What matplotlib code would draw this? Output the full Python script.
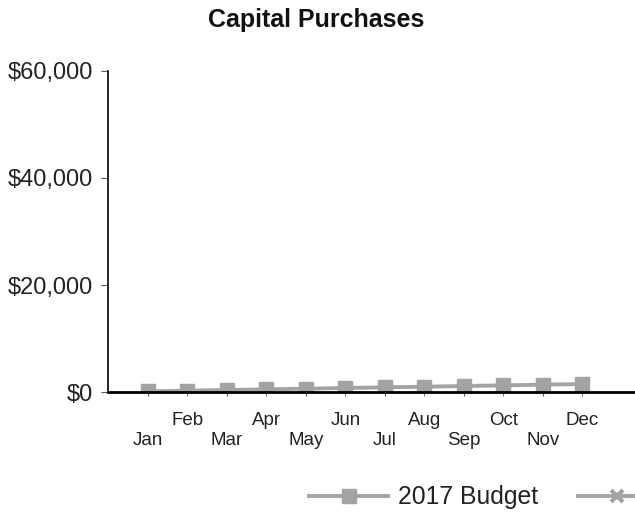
import numpy as np
import matplotlib.pyplot as plt
from matplotlib.ticker import FuncFormatter

plt.rcParams['font.family'] = ['Liberation Sans', 'DejaVu Sans']

months = ['Jan', 'Feb', 'Mar', 'Apr', 'May', 'Jun',
          'Jul', 'Aug', 'Sep', 'Oct', 'Nov', 'Dec']
budget = [150, 280, 400, 520, 650, 780, 900, 1020, 1150, 1270, 1400, 1520]  # 2017 Budget
yticks = [0, 20000, 40000, 60000]

grey = '#a3a3a3'
x = np.arange(len(months))

fig = plt.figure(figsize=(6.35, 5.25), dpi=100)
ax = fig.add_axes([0.170, 0.253, 0.830, 0.612])

lb, = ax.plot(x, budget, color=grey, lw=2.8, marker='s', ms=9.5,
              label='2017 Budget')
# second series: only its legend key shows (label runs off the page)
la, = ax.plot([], [], color=grey, lw=2.8, marker='x', ms=9, mew=3)

ax.set_xlim(-1.01, 12.33)
ax.set_ylim(0, 60000)
ax.set_yticks(yticks)
ax.yaxis.set_major_formatter(FuncFormatter(lambda v, p: '${:,.0f}'.format(v)))

# staggered month labels
ax.set_xticks(x[0::2])
ax.set_xticklabels(months[0::2])
ax.set_xticks(x[1::2], minor=True)
ax.set_xticklabels(months[1::2], minor=True)
ax.tick_params(axis='x', which='major', length=3, pad=26, labelsize=13.5,
               color='#555555', labelcolor='#222222')
ax.tick_params(axis='x', which='minor', length=3, pad=11, labelsize=13.5,
               color='#555555', labelcolor='#222222')
ax.tick_params(axis='y', length=5, pad=6, labelsize=17, color='#555555',
               labelcolor='#222222')

for s in ['top', 'right']:
    ax.spines[s].set_visible(False)
ax.spines['left'].set_linewidth(1.2)
ax.spines['bottom'].set_linewidth(2)

fig.text(0.498, 0.962, 'Capital Purchases', ha='center', va='center',
         fontsize=18, fontweight='bold', color='#111111')

fig.legend(handles=[lb, la], labels=['2017 Budget', ''], loc='center left',
           bbox_to_anchor=(0.471, 0.053), ncol=2, frameon=False, fontsize=17.8,
           labelcolor='#222222', handlelength=3.2, handletextpad=0.4,
           columnspacing=1.6, borderaxespad=0)

fig.savefig('out.png', dpi=100)
plt.close()
